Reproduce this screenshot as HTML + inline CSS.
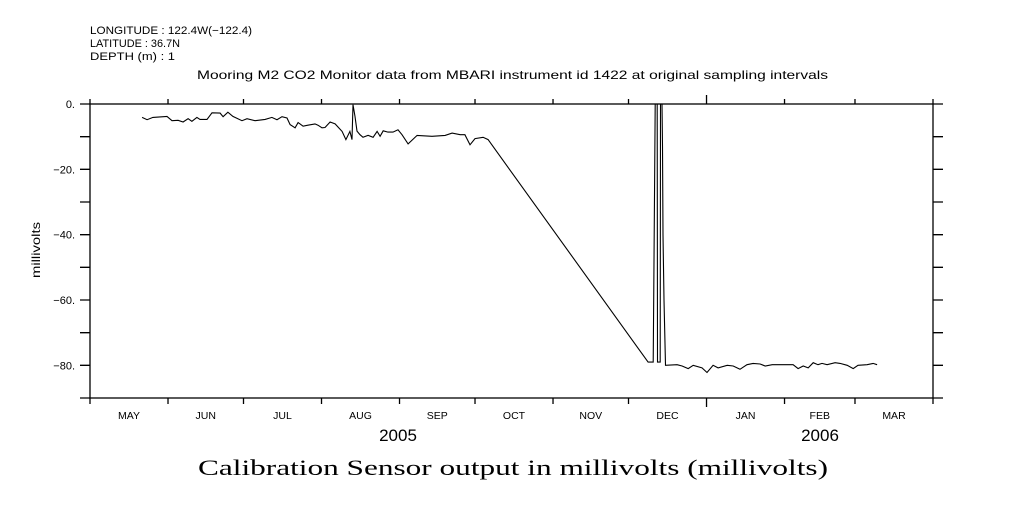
<!DOCTYPE html>
<html><head><meta charset="utf-8"><style>
body{margin:0;background:#fff;width:1009px;height:504px;overflow:hidden}
svg text{font-family:"Liberation Sans",sans-serif;fill:#000}
</style></head><body>
<svg width="1009" height="504" viewBox="0 0 1009 504">
<text x="90" y="34" font-size="11" textLength="162" lengthAdjust="spacingAndGlyphs">LONGITUDE : 122.4W(−122.4)</text>
<text x="90" y="47" font-size="11" textLength="90" lengthAdjust="spacingAndGlyphs">LATITUDE : 36.7N</text>
<text x="90" y="60" font-size="11" textLength="85" lengthAdjust="spacingAndGlyphs">DEPTH (m) : 1</text>
<text x="197" y="79" font-size="12" textLength="631" lengthAdjust="spacingAndGlyphs">Mooring M2 CO2 Monitor data from MBARI instrument id 1422 at original sampling intervals</text>
<text transform="translate(40,250) rotate(-90)" font-size="12" textLength="56" lengthAdjust="spacingAndGlyphs" text-anchor="middle">millivolts</text>
<text x="398" y="441" font-size="17" text-anchor="middle">2005</text>
<text x="820" y="441" font-size="17" text-anchor="middle">2006</text>
<text x="198" y="475" font-size="22" textLength="630" lengthAdjust="spacingAndGlyphs" style="font-family:'Liberation Serif',serif">Calibration Sensor output in millivolts (millivolts)</text>
<g id="axes"></g>
<g id="series"></g>
</svg>
<script>
const monthLabels=["MAY","JUN","JUL","AUG","SEP","OCT","NOV","DEC","JAN","FEB","MAR"];
const monthStartDays=[0,31,61,92,123,153,184,214,245,276,304,335];
const yTicks=[0,-20,-40,-60,-80];
const days=[20.7,22.7,25.0,30.6,32.6,35.0,37.0,39.0,40.5,42.5,43.7,46.5,48.5,51.7,52.9,54.8,56.8,60.4,62.4,65.6,69.6,72.3,74.3,76.3,78.3,79.5,81.5,82.7,84.7,86.6,89.4,90.6,92.2,93.4,95.4,97.4,100.2,101.7,103.3,104.1,104.5,105.3,106.1,107.3,108.5,110.5,112.5,114.1,115.3,116.5,118.4,120.4,122.4,124.0,126.4,130.0,135.9,141.1,143.9,147.1,149.0,151.0,153.0,156.2,158.2,221.8,223.0,223.8,224.0,224.4,224.6,225.4,225.5,226.6,226.7,227.3,227.5,227.7,228.1,228.7,233.3,235.3,237.7,239.7,243.2,245.2,247.6,249.6,253.2,255.6,258.3,261.1,263.5,266.3,268.3,271.1,279.4,281.4,283.4,285.4,287.4,289.3,290.9,292.9,296.1,298.1,300.9,303.3,305.2,308.8,311.2,312.8];
const values=[-4.1,-4.8,-4.1,-3.8,-5.1,-5.0,-5.5,-4.5,-5.3,-4.1,-4.7,-4.7,-2.7,-2.8,-3.9,-2.5,-3.8,-5.1,-4.5,-5.1,-4.7,-4.1,-4.8,-3.9,-4.3,-6.3,-7.3,-5.7,-6.8,-6.5,-6.1,-6.5,-7.3,-7.2,-5.5,-6.1,-8.4,-10.9,-8.4,-10.9,-0.2,-3.8,-8.3,-9.4,-10.2,-9.6,-10.2,-8.4,-9.9,-8.2,-8.6,-8.6,-7.9,-9.4,-12.2,-9.6,-9.9,-9.6,-8.9,-9.4,-9.4,-12.5,-10.6,-10.2,-10.9,-79.0,-79.0,-79.0,-60,-20,0,0,-79,-79,0,0,-13,-40,-60,-80,-79.8,-80.2,-81,-80,-80.8,-82.2,-80,-80.8,-80,-80.2,-81.2,-79.8,-79.4,-79.6,-80.2,-79.8,-79.8,-81,-80.2,-80.8,-79.2,-79.8,-79.4,-79.8,-79.2,-79.4,-80,-81,-80,-79.8,-79.4,-79.8];
const X0=90,X1=933,Y0=104,Y1=398,D=335,VMIN=-90,VMAX=0;
const xs=d=>X0+(d/D)*(X1-X0);
const ys=v=>Y0+(VMAX-v)/(VMAX-VMIN)*(Y1-Y0);
const NS="http://www.w3.org/2000/svg";
const ax=document.getElementById('axes'),se=document.getElementById('series');
function mk(tag,at,parent){const e=document.createElementNS(NS,tag);for(const k in at)e.setAttribute(k,at[k]);parent.appendChild(e);return e;}
const frame=mk('rect',{x:X0,y:Y0,width:X1-X0,height:Y1-Y0,fill:'none',stroke:'#000','stroke-width':1.3},ax);


for(let v=0;v>=-90;v-=10){
  const y=ys(v);
  const t=mk('path',{d:`M${X0-10},${y}H${X0}M${X1},${y}H${X1+10}`,stroke:'#000','stroke-width':1.3},ax);
  
  
}
yTicks.forEach(v=>{
  const t=mk('text',{x:75,y:ys(v)+4,'font-size':11,'text-anchor':'end'},ax);
  t.textContent=(v<0?'\u2212'+(-v):v)+'.';
  
  
});
monthStartDays.forEach((d,i)=>{
  const x=xs(d);const big=(d===245);
  const t=mk('path',{d:`M${x},${Y1}V${Y1+(big?9:6)}M${x},${Y0}V${Y0-(big?9:5)}`,stroke:'#000','stroke-width':1.3},ax);
  
  
  if(i<monthLabels.length){
    const l=mk('text',{x:(x+xs(monthStartDays[i+1]))/2,y:419,'font-size':10.5,'text-anchor':'middle'},ax);
    l.textContent=monthLabels[i];
    
    
  }
});
const pts=days.map((d,i)=>xs(d).toFixed(1)+','+ys(values[i]).toFixed(1)).join(' ');
const line=mk('polyline',{points:pts,fill:'none',stroke:'#000','stroke-width':1.1},se);


</script>
</body></html>
